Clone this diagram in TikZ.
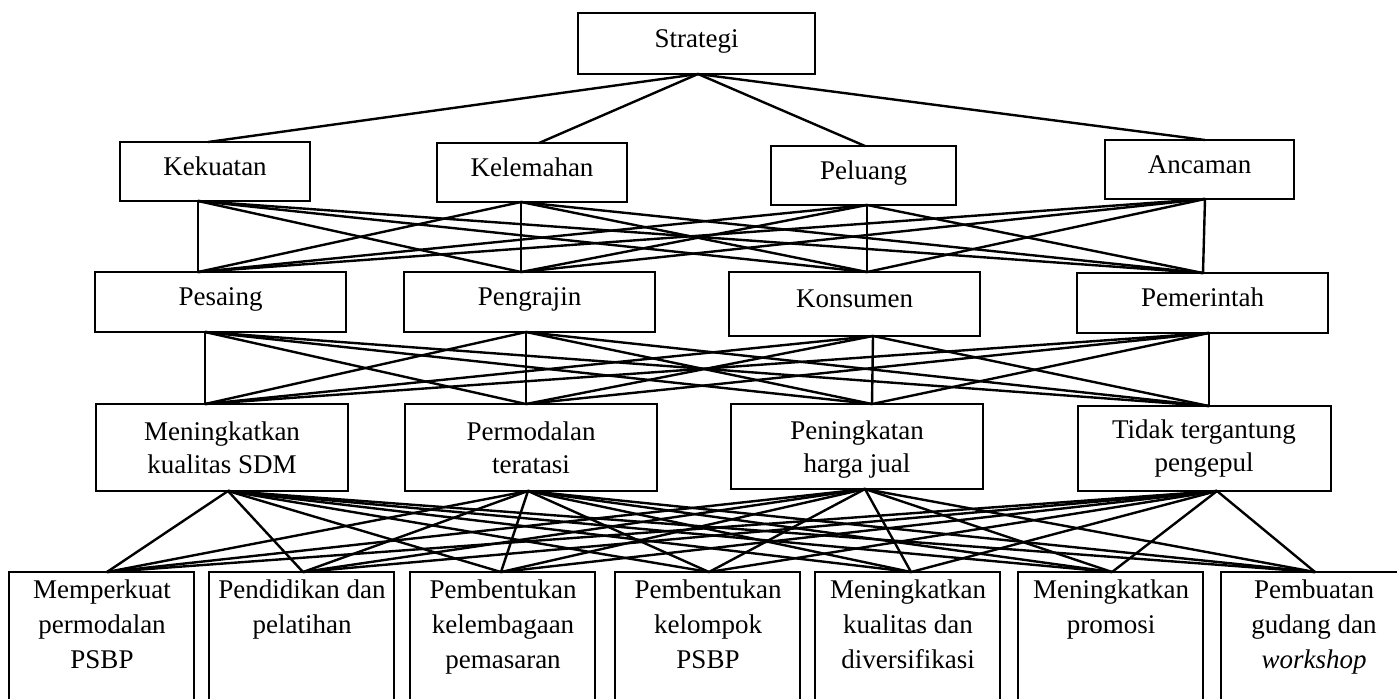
\documentclass[tikz,border=0pt]{standalone}
\usepackage{fontspec}
\setmainfont{Liberation Serif}
\newcommand{\topstrut}{\rule{0pt}{10pt}}
\begin{document}
\begin{tikzpicture}[x=0.5pt,y=-0.5pt,
  box/.style={draw=black, line width=1pt, rectangle, inner sep=0pt, outer sep=0pt, anchor=north west, align=center,
    text height=9pt, text depth=5.5pt, font=\fontsize{13.5pt}{17.5pt}\selectfont},
  txtA/.style={inner sep=0pt, anchor=north, align=center, font=\fontsize{13.5pt}{16.5pt}\selectfont},
  txtB/.style={inner sep=0pt, anchor=north, align=center, font=\fontsize{13.5pt}{17.5pt}\selectfont},
  conn/.style={line width=1.2pt, line cap=round}]
\useasboundingbox (0,0) rectangle (1397,698);
\clip (0,0) rectangle (1397,698);
% Level 1
\node[box, minimum width=118.5pt, minimum height=30.5pt] (str) at (578,13) {Strategi};
% Level 2
\node[box, minimum width=95pt, minimum height=29.5pt] (kek) at (120,142) {Kekuatan};
\node[box, minimum width=95pt, minimum height=29.5pt] (kel) at (437,143) {Kelemahan};
\node[box, minimum width=92.5pt, minimum height=29.5pt] (pel) at (771,146) {Peluang};
\node[box, minimum width=94.5pt, minimum height=29.5pt] (anc) at (1105,140) {Ancaman};
% Level 3
\node[box, minimum width=125.5pt, minimum height=30pt] (pes) at (95,272) {Pesaing};
\node[box, minimum width=125.5pt, minimum height=30pt] (pen) at (404,272) {Pengrajin};
\node[box, minimum width=125.5pt, minimum height=32pt] (kon) at (729,272) {Konsumen};
\node[box, minimum width=125.5pt, minimum height=30pt] (pem) at (1077,273) {Pemerintah};
% Level 4
\node[box, minimum width=126pt, minimum height=43.5pt] (sdm) at (96,404) {};
\node[box, minimum width=126pt, minimum height=43.5pt] (mod) at (405,404) {};
\node[box, minimum width=126pt, minimum height=42.5pt] (har) at (731,404) {};
\node[box, minimum width=126.5pt, minimum height=42.5pt] (tid) at (1078,406) {};
\node[txtA] (sdmt) at (222,420) {\topstrut Meningkatkan\\kualitas SDM};
\node[txtA] (modt) at (531,420) {\topstrut Permodalan\\teratasi};
\node[txtA] (hart) at (857,419) {\topstrut Peningkatan\\harga jual};
\node[txtA] (tidt) at (1204,418) {\topstrut Tidak tergantung\\pengepul};
% Level 5 boxes
\node[box, minimum width=92.5pt, minimum height=75pt] (b1) at (9,572) {};
\node[box, minimum width=92.5pt, minimum height=75pt] (b2) at (209,572) {};
\node[box, minimum width=92.5pt, minimum height=75pt] (b3) at (410,572) {};
\node[box, minimum width=92.5pt, minimum height=75pt] (b4) at (615,572) {};
\node[box, minimum width=92.5pt, minimum height=75pt] (b5) at (815,572) {};
\node[box, minimum width=92.5pt, minimum height=75pt] (b6) at (1018,572) {};
\node[box, minimum width=92.5pt, minimum height=75pt] (b7) at (1221,572) {};
\node[txtB] (t1) at (102,578) {\topstrut Memperkuat\\permodalan\\PSBP};
\node[txtB] (t2) at (302,578) {\topstrut Pendidikan dan\\pelatihan};
\node[txtB] (t3) at (503,578) {\topstrut Pembentukan\\kelembagaan\\pemasaran};
\node[txtB] (t4) at (708,578) {\topstrut Pembentukan\\kelompok\\PSBP};
\node[txtB] (t5) at (908,578) {\topstrut Meningkatkan\\kualitas dan\\diversifikasi};
\node[txtB] (t6) at (1111,578) {\topstrut Meningkatkan\\promosi};
\node[txtB] (t7) at (1314,578) {\topstrut Pembuatan\\gudang dan\\\textit{workshop}};
% connection points
\coordinate (strB) at (698,74);
\coordinate (L2T1) at (208,142); \coordinate (L2T2) at (539,143);
\coordinate (L2T3) at (865,146); \coordinate (L2T4) at (1205,140);
\coordinate (L2B1) at (198,201); \coordinate (L2B2) at (521,202);
\coordinate (L2B3) at (867,205); \coordinate (L2B4) at (1205,199);
\coordinate (L3T1) at (198,272); \coordinate (L3T2) at (521,272);
\coordinate (L3T3) at (867,272); \coordinate (L3T4) at (1203,273);
\coordinate (L3B1) at (205,332); \coordinate (L3B2) at (526,332);
\coordinate (L3B3) at (873,336); \coordinate (L3B4) at (1209,333);
\coordinate (L4T1) at (205,404); \coordinate (L4T2) at (526,404);
\coordinate (L4T3) at (872,404); \coordinate (L4T4) at (1209,406);
\coordinate (L4B1) at (228,491); \coordinate (L4B2) at (528,491);
\coordinate (L4B3) at (865,489); \coordinate (L4B4) at (1217,491);
\coordinate (L5T1) at (107,572); \coordinate (L5T2) at (303,572);
\coordinate (L5T3) at (501,572); \coordinate (L5T4) at (709,572);
\coordinate (L5T5) at (911,572); \coordinate (L5T6) at (1112,572);
\coordinate (L5T7) at (1315,572);
% connectors
\foreach \i in {1,...,4} { \draw[conn] (strB) -- (L2T\i); }
\foreach \i in {1,...,4} { \foreach \j in {1,...,4} { \draw[conn] (L2B\i) -- (L3T\j); } }
\foreach \i in {1,...,4} { \foreach \j in {1,...,4} { \draw[conn] (L3B\i) -- (L4T\j); } }
\foreach \i in {1,...,4} { \foreach \j in {1,...,7} { \draw[conn] (L4B\i) -- (L5T\j); } }
\end{tikzpicture}
\end{document}
